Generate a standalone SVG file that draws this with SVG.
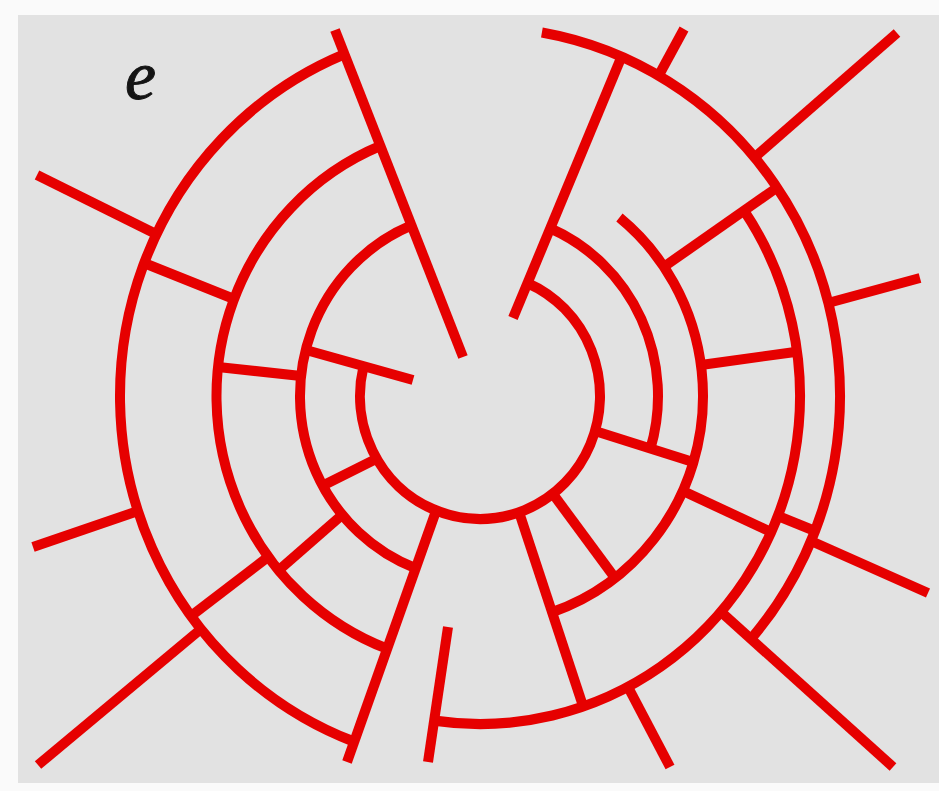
<svg xmlns="http://www.w3.org/2000/svg" width="939" height="791" viewBox="0 0 939 791">
<style>
.t{fill:none;stroke:#e60000;stroke-width:10;stroke-linecap:butt}
.lbl{font-family:"Liberation Serif","Times New Roman",serif;font-style:italic;font-size:70px;fill:#141414;stroke:#141414;stroke-width:1}
</style>
<rect width="939" height="791" fill="#fafafa"/>
<rect x="18" y="15" width="921" height="768" fill="#e2e2e2"/>
<g id="label"><text class="lbl" x="125" y="99">e</text></g>
<g id="arcs" class="t" transform="translate(480 396) scale(1 1.025)">
<circle r="120" transform="rotate(-66.8)" stroke-dasharray="545.4 3000"/>
<circle r="178" transform="rotate(-66.8)" stroke-dasharray="259.4 3000"/>
<circle r="223" transform="rotate(-51.3)" stroke-dasharray="476.8 3000"/>
<circle r="320" transform="rotate(-34.4)" stroke-dasharray="740.6 3000"/>
<circle r="360" transform="rotate(-80.1)" stroke-dasharray="761.5 3000"/>
<circle r="360" transform="rotate(110.6)" stroke-dasharray="861.4 3000"/>
<circle r="263.5" transform="rotate(110.6)" stroke-dasharray="631 3000"/>
<circle r="180" transform="rotate(110.8)" stroke-dasharray="429.8 3000"/>
</g>
<g id="branches" class="t">
<line x1="335" y1="30" x2="463" y2="357"/>
<line x1="621" y1="58" x2="513" y2="318"/>
<line x1="436" y1="511" x2="347" y2="762"/>
<line x1="448" y1="627" x2="428" y2="762"/>
<line x1="37" y1="175" x2="156" y2="234"/>
<line x1="33" y1="547" x2="138" y2="511"/>
<line x1="38" y1="765" x2="201" y2="629"/>
<line x1="659" y1="75" x2="684" y2="29"/>
<line x1="755" y1="157" x2="897" y2="33"/>
<line x1="828" y1="303" x2="920" y2="278"/>
<line x1="811" y1="541" x2="928" y2="593"/>
<line x1="720" y1="611" x2="893" y2="767"/>
<line x1="628" y1="687" x2="670" y2="767"/>
<line x1="144" y1="263" x2="234" y2="299"/>
<line x1="218" y1="367" x2="301" y2="376"/>
<line x1="306" y1="350" x2="413" y2="380"/>
<line x1="191" y1="616" x2="268" y2="557"/>
<line x1="279" y1="570" x2="342" y2="515"/>
<line x1="324" y1="485" x2="376" y2="459"/>
<line x1="595" y1="431" x2="693" y2="462"/>
<line x1="553" y1="494" x2="615" y2="578"/>
<line x1="519" y1="512" x2="583" y2="706"/>
<line x1="665" y1="266" x2="775" y2="189"/>
<line x1="701" y1="365" x2="795" y2="352"/>
<line x1="683" y1="491" x2="771" y2="532"/>
<line x1="778" y1="516" x2="815" y2="531"/>
</g>
</svg>
